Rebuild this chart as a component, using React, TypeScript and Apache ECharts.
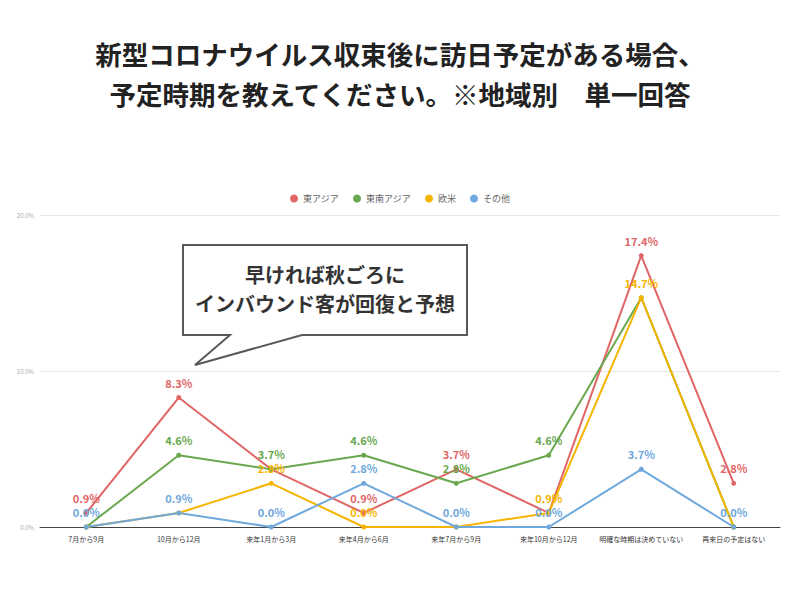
import React, { useEffect, useRef } from "react";
import * as echarts from "echarts";

const categories = [
  "7月から9月",
  "10月から12月",
  "来年1月から3月",
  "来年4月から6月",
  "来年7月から9月",
  "来年10月から12月",
  "明確な時期は決めていない",
  "再来日の予定はない",
];

const seriesNames = ["東アジア", "東南アジア", "欧米", "その他"];
const eastAsia = [0.9, 8.3, 3.7, 0.9, 3.7, 0.9, 17.4, 2.8];
const southeastAsia = [0.0, 4.6, 3.7, 4.6, 2.8, 4.6, 14.7, 0.0];
const westEurope = [0.0, 0.9, 2.8, 0.0, 0.0, 0.9, 14.7, 0.0];
const others = [0.0, 0.9, 0.0, 2.8, 0.0, 0.0, 3.7, 0.0];

const yTicks = [0, 10, 20];

const titleLines = [
  "新型コロナウイルス収束後に訪日予定がある場合、",
  "予定時期を教えてください。※地域別　単一回答",
];
const calloutLines = ["早ければ秋ごろに", "インバウンド客が回復と予想"];

const colors = ["#e06666", "#6aa84f", "#f4b400", "#6fa8dc"];
// indices whose labels are hidden (overlapped in reference)
const hiddenLabels = [[2, 5], [0, 6, 7], [0, 1, 4, 7], []];

const FONT = "'Noto Sans CJK JP', 'Noto Sans', sans-serif";

export default function App() {
  const ref = useRef<HTMLDivElement>(null);
  useEffect(() => {
    if (!ref.current) return;
    const chart = echarts.init(ref.current, undefined, { renderer: "svg" });
    const all = [eastAsia, southeastAsia, westEurope, others];
    const series = all.map((vals, si) => ({
      name: seriesNames[si],
      type: "line",
      data: vals.map((v, i) => ({
        value: v,
        label: { show: !hiddenLabels[si].includes(i) },
      })),
      symbol: "circle",
      symbolSize: 5,
      lineStyle: { width: 2, color: colors[si] },
      itemStyle: { color: colors[si] },
      label: {
        show: true,
        position: "top",
        distance: 7,
        color: colors[si],
        fontSize: 11,
        fontWeight: "bold",
        fontFamily: FONT,
        formatter: (p: any) => Number(p.value).toFixed(1) + "%",
      },
      emphasis: { disabled: true },
    }));
    chart.setOption({
      animation: false,
      backgroundColor: "#ffffff",
      color: colors,
      title: {
        text: titleLines.join("\n"),
        left: "center",
        top: 28,
        textStyle: {
          fontSize: 26.5,
          fontWeight: "bold",
          color: "#222222",
          lineHeight: 40,
          fontFamily: FONT,
        },
      },
      legend: {
        top: 189,
        left: "center",
        icon: "circle",
        itemWidth: 8,
        itemHeight: 8,
        itemGap: 14,
        textStyle: { fontSize: 9, color: "#666666", fontFamily: FONT },
        data: seriesNames,
      },
      grid: { left: 40, right: 20, top: 215, bottom: 73 },
      xAxis: {
        type: "category",
        data: categories,
        axisLine: { lineStyle: { color: "#444444", width: 1 } },
        axisTick: { show: false },
        axisLabel: {
          fontSize: 7,
          color: "#333333",
          margin: 8,
          interval: 0,
          fontFamily: FONT,
        },
      },
      yAxis: {
        type: "value",
        min: yTicks[0],
        max: yTicks[yTicks.length - 1],
        interval: 10,
        axisLine: { show: false },
        axisTick: { show: false },
        splitLine: { lineStyle: { color: "#e6e6e6", width: 1 } },
        axisLabel: {
          fontSize: 6,
          color: "#aaaaaa",
          margin: 6,
          formatter: (v: number) => v.toFixed(1) + "%",
          fontFamily: FONT,
        },
      },
      series,
      graphic: [
        {
          type: "polygon",
          shape: {
            points: [
              [183, 245],
              [467, 245],
              [467, 335],
              [302, 335],
              [195, 365],
              [230, 335],
              [183, 335],
            ],
          },
          style: { fill: "#ffffff", stroke: "#595959", lineWidth: 2 },
          z: 100,
        },
        {
          type: "text",
          x: 325,
          y: 289,
          z: 101,
          style: {
            text: calloutLines.join("\n"),
            fontSize: 20,
            fontWeight: "bold",
            fill: "#333333",
            align: "center",
            verticalAlign: "middle",
            lineHeight: 29,
            fontFamily: FONT,
          },
        },
      ],
    });
    return () => chart.dispose();
  }, []);
  return (
    <div
      ref={ref}
      style={{ position: "absolute", left: 0, top: 0, width: 800, height: 600 }}
    />
  );
}
